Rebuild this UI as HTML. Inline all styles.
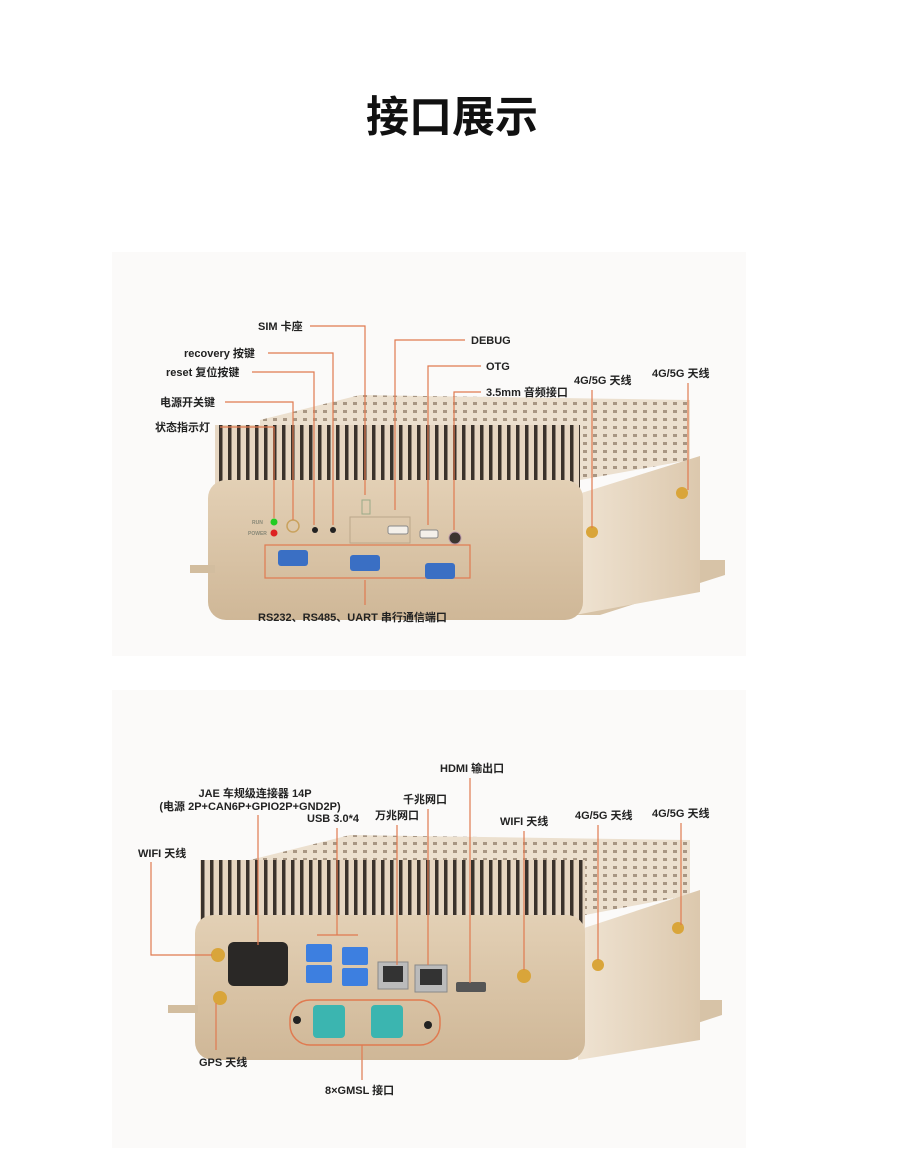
<!DOCTYPE html>
<html><head><meta charset="utf-8"><style>
html,body{margin:0;padding:0;background:#fff;}
svg{display:block}
text{font-family:"Liberation Sans","Noto Sans CJK SC",sans-serif;font-weight:bold;fill:#222;font-size:11px}
.l{stroke:#e07a50;stroke-width:1.2;fill:none}
</style></head><body>
<svg width="900" height="1166" viewBox="0 0 900 1166" xmlns="http://www.w3.org/2000/svg">
<defs>
<pattern id="fins" width="9" height="10" patternUnits="userSpaceOnUse">
<rect width="9" height="10" fill="#e6d6c2"/><rect x="3" width="3.5" height="10" fill="#3a322c"/>
</pattern>
<pattern id="grid" width="10" height="8" patternUnits="userSpaceOnUse">
<rect width="10" height="8" fill="#ece0cf"/><rect x="3" y="2" width="4" height="3" fill="#a89683"/>
</pattern>
<linearGradient id="front" x1="0" y1="0" x2="0" y2="1"><stop offset="0" stop-color="#e3d0b5"/><stop offset="1" stop-color="#cfb797"/></linearGradient>
<linearGradient id="side" x1="0" y1="0" x2="1" y2="0"><stop offset="0" stop-color="#efe3d2"/><stop offset="1" stop-color="#dcc8ad"/></linearGradient>
</defs>
<rect width="900" height="1166" fill="#fff"/>
<text x="452" y="132" text-anchor="middle" style="font-size:43px;fill:#111">接口展示</text>

<!-- panel 1 -->
<rect x="112" y="252" width="634" height="404" fill="#fbfaf9"/>
<polygon points="260,420 360,395 690,400 690,460 580,480 260,470" fill="url(#grid)"/>
<polygon points="575,560 725,560 725,575 600,615 575,615" fill="#d7c3a7"/>
<polygon points="575,495 700,456 700,592 575,615" fill="url(#side)"/>
<rect x="215" y="425" width="365" height="80" fill="url(#fins)"/>
<rect x="208" y="480" width="375" height="140" rx="18" fill="url(#front)"/>
<rect x="190" y="565" width="25" height="8" fill="#d2bd9f"/>
<circle cx="274" cy="522" r="3.5" fill="#2c2"/><circle cx="274" cy="533" r="3.5" fill="#d22"/>
<text x="252" y="524" style="font-size:5px;fill:#887">RUN</text><text x="248" y="535" style="font-size:5px;fill:#887">POWER</text>
<circle cx="293" cy="526" r="6" fill="none" stroke="#c9a25e" stroke-width="1.5"/>
<circle cx="315" cy="530" r="3" fill="#222"/><circle cx="333" cy="530" r="3" fill="#222"/>
<rect x="350" y="517" width="60" height="26" fill="none" stroke="#bba78a"/>
<rect x="362" y="500" width="8" height="14" fill="none" stroke="#9a8"/>
<rect x="388" y="526" width="20" height="8" rx="2" fill="#f4f0ea" stroke="#888"/>
<rect x="420" y="530" width="18" height="8" rx="2" fill="#f4f0ea" stroke="#888"/>
<circle cx="455" cy="538" r="6" fill="#3a3530" stroke="#b9a"/>
<rect x="265" y="545" width="205" height="33" fill="none" stroke="#e07a50" stroke-width="1.2"/>
<rect x="278" y="550" width="30" height="16" rx="3" fill="#3a6fc4"/>
<rect x="350" y="555" width="30" height="16" rx="3" fill="#3a6fc4"/>
<rect x="425" y="563" width="30" height="16" rx="3" fill="#3a6fc4"/>
<circle cx="592" cy="532" r="6" fill="#d9a53a"/><circle cx="682" cy="493" r="6" fill="#d9a53a"/>
<text x="258" y="330">SIM 卡座</text><path class="l" d="M310,326H365V495"/>
<text x="471" y="344">DEBUG</text><path class="l" d="M465,340H395V510"/>
<text x="184" y="357">recovery 按键</text><path class="l" d="M268,353H333V525"/>
<text x="166" y="376">reset 复位按键</text><path class="l" d="M252,372H314V525"/>
<text x="486" y="370">OTG</text><path class="l" d="M481,366H428V525"/>
<text x="486" y="396">3.5mm 音频接口</text><path class="l" d="M481,392H454V530"/>
<text x="574" y="384">4G/5G 天线</text><path class="l" d="M592,390V528"/>
<text x="652" y="377">4G/5G 天线</text><path class="l" d="M688,383V490"/>
<text x="160" y="406">电源开关键</text><path class="l" d="M225,402H293V520"/>
<text x="155" y="431">状态指示灯</text><path class="l" d="M220,427H274V518"/>
<text x="258" y="621">RS232、RS485、UART 串行通信端口</text><path class="l" d="M365,580V605"/>

<!-- panel 2 -->
<rect x="112" y="690" width="634" height="458" fill="#fbfaf9"/>
<polygon points="250,860 350,835 690,840 690,895 585,915 250,905" fill="url(#grid)"/>
<polygon points="578,1000 722,1000 722,1015 600,1055 578,1055" fill="#d7c3a7"/>
<polygon points="578,930 700,890 700,1040 578,1060" fill="url(#side)"/>
<rect x="200" y="860" width="385" height="75" fill="url(#fins)"/>
<rect x="195" y="915" width="390" height="145" rx="18" fill="url(#front)"/>
<rect x="168" y="1005" width="30" height="8" fill="#d2bd9f"/>
<circle cx="218" cy="955" r="7" fill="#d9a53a"/><circle cx="220" cy="998" r="7" fill="#d9a53a"/>
<rect x="228" y="942" width="60" height="44" rx="6" fill="#2a2826"/>
<rect x="306" y="944" width="26" height="18" rx="2" fill="#3d7fe0"/><rect x="306" y="965" width="26" height="18" rx="2" fill="#3d7fe0"/>
<rect x="342" y="947" width="26" height="18" rx="2" fill="#3d7fe0"/><rect x="342" y="968" width="26" height="18" rx="2" fill="#3d7fe0"/>
<rect x="378" y="962" width="30" height="27" fill="#bbb" stroke="#888"/><rect x="383" y="966" width="20" height="16" fill="#333"/>
<rect x="415" y="965" width="32" height="27" fill="#bbb" stroke="#888"/><rect x="420" y="969" width="22" height="16" fill="#333"/>
<rect x="456" y="982" width="30" height="10" rx="2" fill="#555"/>
<circle cx="524" cy="976" r="7" fill="#d9a53a"/><circle cx="598" cy="965" r="6" fill="#d9a53a"/><circle cx="678" cy="928" r="6" fill="#d9a53a"/>
<rect x="290" y="1000" width="150" height="45" rx="20" fill="none" stroke="#e07a50" stroke-width="1.5"/>
<rect x="313" y="1005" width="32" height="33" rx="4" fill="#3bb5b0"/><rect x="371" y="1005" width="32" height="33" rx="4" fill="#3bb5b0"/>
<circle cx="297" cy="1020" r="4" fill="#222"/><circle cx="428" cy="1025" r="4" fill="#222"/>
<text x="255" y="797" text-anchor="middle">JAE 车规级连接器 14P</text>
<text x="250" y="810" text-anchor="middle">(电源 2P+CAN6P+GPIO2P+GND2P)</text><path class="l" d="M258,815V945"/>
<text x="307" y="822">USB 3.0*4</text><path class="l" d="M337,828V935M317,935H358"/>
<text x="375" y="819">万兆网口</text><path class="l" d="M397,825V965"/>
<text x="403" y="803">千兆网口</text><path class="l" d="M428,809V965"/>
<text x="440" y="772">HDMI 输出口</text><path class="l" d="M470,778V983"/>
<text x="500" y="825">WIFI 天线</text><path class="l" d="M524,831V970"/>
<text x="575" y="819">4G/5G 天线</text><path class="l" d="M598,825V960"/>
<text x="652" y="817">4G/5G 天线</text><path class="l" d="M681,823V925"/>
<text x="138" y="857">WIFI 天线</text><path class="l" d="M151,862V955H212"/>
<text x="199" y="1066">GPS 天线</text><path class="l" d="M216,1003V1050"/>
<text x="325" y="1094">8×GMSL 接口</text><path class="l" d="M362,1045V1080"/>
</svg>
</body></html>
